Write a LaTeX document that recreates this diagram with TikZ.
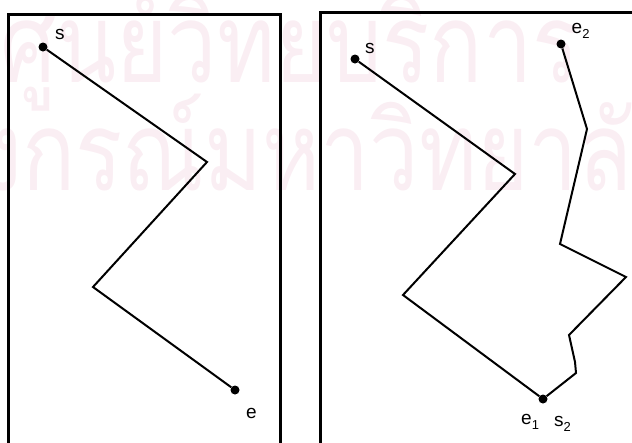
\documentclass[tikz,border=0pt]{standalone}
\usepackage{fontspec}
\setmainfont{Liberation Sans}
\newfontfamily\thaifont[Script=Thai]{Loma}
\usetikzlibrary{positioning}
\definecolor{wmpink}{RGB}{250,238,243}
\newcommand{\lsub}[1]{\raisebox{-5.5pt}{\fontsize{13}{14}\selectfont #1}}

\tikzset{
  frame/.style={line width=3pt, line cap=butt},
  walk/.style={line width=2pt, line join=miter},
  dot/.style={circle, fill=black, inner sep=0pt, minimum size=9pt},
  lbl/.style={font=\fontsize{19}{21}\selectfont, inner sep=0pt, anchor=base west},
  wmark/.style={text=wmpink, font=\thaifont\fontsize{110}{110}\selectfont, inner sep=0pt},
}

\begin{document}
\begin{tikzpicture}[x=1pt,y=-1pt]
  \useasboundingbox (0,0) rectangle (632,442);
  \clip (0,0) rectangle (632,442);
  % watermark in the back
  \node[wmark, anchor=base east] (wmtop) at (580,82) {\scalebox{0.8}[1]{ศูนย์วิทยบริการ}};
  \node[wmark, anchor=base west] (wmbot) at (-236,190) {\scalebox{0.8}[1]{จุฬาลงกรณ์มหาวิทยาลัย}};

  % left panel
  \draw[frame] (8,460) -- (8,14) -- (280,14) -- (280,460);
  \node[dot] (s) at (43,47) {};
  \coordinate (l1) at (207,162);
  \coordinate (l2) at (93,287);
  \node[dot] (e) at (235,390) {};
  \draw[walk] (s) -- (l1) -- (l2) -- (e);
  \node[lbl] (slbl) at (55,39) {s};
  \node[lbl] (elbl) at (246,418.5) {e};

  % right panel
  \draw[frame] (320,460) -- (320,12) -- (640,12);
  \node[dot] (s1) at (355,59) {};
  \coordinate (r1) at (515,174);
  \coordinate (r2) at (403,295);
  \node[dot] (m) at (543,399) {};
  \draw[walk] (s1) -- (r1) -- (r2) -- (m);
  \coordinate (q1) at (576,373);
  \coordinate (q2) at (575,362);
  \coordinate (q3) at (569,335);
  \coordinate (q4) at (626,277);
  \coordinate (q5) at (560,244);
  \coordinate (q6) at (587,129);
  \node[dot] (e2) at (561,44) {};
  \draw[walk] (m) -- (q1) -- (q2) -- (q3) -- (q4) -- (q5) -- (q6) -- (e2);
  \node[lbl] (s1lbl) at (365,53) {s};
  \node[lbl] (e2lbl) at (571.5,33) {e\lsub{2}};
  \node[lbl] (e1lbl) at (521,424) {e\lsub{1}};
  \node[lbl] (s2lbl) at (554,426) {s\lsub{2}};
\end{tikzpicture}
\end{document}
